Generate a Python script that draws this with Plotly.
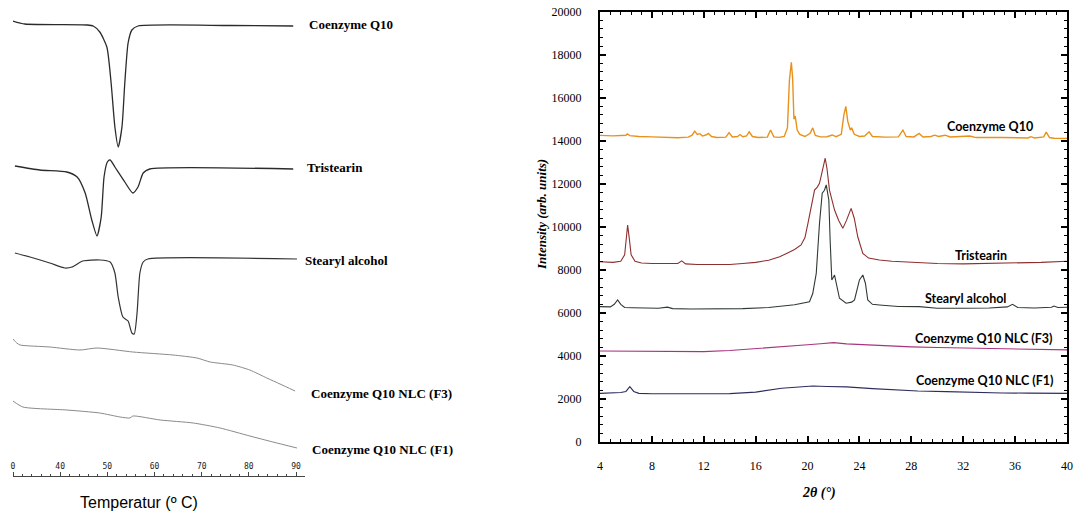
import plotly.graph_objects as go

# ---------------- DSC (left) ----------------
dsc_names = ["Coenzyme Q10", "Tristearin", "Stearyl alcohol", "Coenzyme Q10 NLC (F3)", "Coenzyme Q10 NLC (F1)"]

coq_T = [30.0, 32.5, 45.7, 47.0, 48.4, 49.9, 50.8, 51.6, 52.3, 53.1, 53.7, 54.4, 55.2, 56.5, 76.0, 89.4]
coq_H = [49.5, 49.2, 49.1, 49.0, 48.4, 46.9, 43.3, 38.9, 36.9, 38.9, 43.3, 47.3, 48.6, 49.0, 49.05, 49.0]

tri_T = [30.4, 35.7, 41.4, 43.6, 45.3, 46.7, 47.8, 48.7, 49.3, 50.0, 50.6, 51.6, 53.7, 55.4, 56.5, 57.6, 59.0, 89.4]
tri_H = [35.0, 34.6, 34.4, 33.9, 32.3, 29.6, 28.0, 29.9, 33.9, 35.4, 35.6, 34.9, 33.4, 32.3, 32.9, 34.3, 34.7, 34.7]

ste_T = [30.4, 33.6, 37.8, 41.0, 42.5, 44.8, 48.4, 50.6, 51.6, 52.3, 53.3, 54.4, 55.2, 55.7, 56.3, 56.9, 57.6, 58.6, 90.2]
ste_H = [26.3, 25.9, 25.3, 24.8, 24.9, 25.5, 25.6, 25.4, 24.3, 21.9, 19.9, 19.5, 18.3, 18.2, 20.3, 24.3, 25.4, 25.7, 25.7]

f3_T = [30.0, 30.8, 31.5, 37.8, 44.2, 47.8, 55.4, 63.9, 69.0, 71.8, 76.6, 80.2, 83.8, 86.6, 89.8]
f3_H = [17.7, 17.3, 17.1, 16.9, 16.6, 16.8, 16.4, 16.1, 15.8, 15.4, 15.1, 14.6, 13.8, 13.2, 12.5]

f1_T = [30.0, 32.1, 41.4, 48.4, 52.7, 54.8, 55.4, 61.2, 68.2, 73.9, 80.2, 85.1, 90.2]
f1_H = [11.5, 10.9, 10.6, 10.3, 9.9, 9.8, 10.0, 9.6, 9.3, 8.8, 8.0, 7.4, 6.8]

dsc_ticks = [30, 40, 50, 60, 70, 80, 90]
dsc_ticktext = ["0", "40", "50", "60", "70", "80", "90"]

# ---------------- XRD (right) ----------------
xrd_names = ["Coenzyme Q10", "Tristearin", "Stearyl alcohol", "Coenzyme Q10 NLC (F3)", "Coenzyme Q10 NLC (F1)"]

coq_x = [4.0, 5.0, 6.0, 6.1, 6.3, 7.0, 8.0, 9.0, 10.0, 10.8, 11.1, 11.3, 11.5, 11.7, 11.9, 12.2, 12.35, 12.6, 13.0, 13.7,
         13.95, 14.2, 14.6, 14.8, 15.0, 15.3, 15.5, 15.75, 16.2, 16.9, 17.15, 17.4, 17.8, 18.2, 18.45, 18.6, 18.75, 18.85,
         18.95, 19.05, 19.2, 19.4, 19.8, 20.2, 20.4, 20.6, 21.0, 21.5, 21.9, 22.2, 22.6, 22.8, 22.95, 23.1, 23.3, 23.4,
         23.6, 24.0, 24.4, 24.75, 25.0, 26.0, 27.0, 27.35, 27.6, 28.2, 28.6, 28.9, 29.5, 29.8, 30.1, 30.6, 31.0, 32.5,
         33.0, 35.0, 37.0, 37.2, 37.5, 38.2, 38.4, 38.65, 39.0, 40.0]
coq_y = [14250, 14230, 14260, 14320, 14240, 14200, 14180, 14150, 14140, 14170, 14260, 14450, 14300, 14330, 14220, 14280,
         14340, 14200, 14150, 14170, 14380, 14180, 14200, 14290, 14190, 14230, 14420, 14200, 14150, 14170, 14500, 14180,
         14160, 14200, 14600, 16800, 17650, 16900, 15000, 15150, 14500, 14300, 14200, 14350, 14600, 14250, 14180, 14190,
         14270, 14190, 14300, 15200, 15600, 14900, 14500, 14600, 14300, 14200, 14220, 14420, 14200, 14170, 14180, 14500,
         14200, 14180, 14340, 14180, 14200, 14260, 14200, 14260, 14180, 14220, 14150, 14150, 14130, 14190, 14130, 14180,
         14400, 14150, 14120, 14110]

tri_x = [4.0, 5.0, 5.6, 5.9, 6.05, 6.13, 6.25, 6.4, 6.7, 7.2, 8.0, 9.0, 10.0, 10.3, 10.6, 11.5, 13.0, 14.0, 15.0, 16.0,
         17.0, 17.85, 18.5, 19.0, 19.5, 19.8, 20.03, 20.3, 20.54, 20.75, 20.92, 21.1, 21.36, 21.5, 21.69, 22.08, 22.4,
         22.72, 23.0, 23.36, 23.6, 23.87, 24.26, 24.7, 25.54, 26.5, 28.62, 30.0, 32.0, 34.0, 36.0, 38.0, 40.0]
tri_y = [8380, 8350, 8400, 8700, 9600, 10080, 9500, 8700, 8400, 8320, 8300, 8290, 8300, 8420, 8280, 8250, 8260, 8250,
         8300, 8350, 8450, 8610, 8800, 8950, 9160, 9500, 10160, 11000, 11710, 11850, 12020, 12500, 13190, 12700, 11710,
         10780, 10300, 9930, 10300, 10860, 10400, 9540, 8770, 8550, 8460, 8400, 8330, 8300, 8280, 8300, 8320, 8350, 8400]

ste_x = [4.0, 4.8, 5.1, 5.36, 5.6, 5.9, 6.5, 7.5, 8.5, 9.2, 9.6, 11.0, 13.0, 15.0, 17.0, 17.85, 19.0, 20.15, 20.4, 20.67,
         20.92, 21.13, 21.3, 21.44, 21.64, 21.74, 21.87, 22.08, 22.25, 22.46, 22.97, 23.4, 23.62, 23.85, 24.0, 24.26,
         24.46, 24.64, 25.0, 25.54, 27.0, 28.6, 30.0, 32.0, 34.0, 35.4, 35.8, 36.2, 37.5, 38.8, 39.0, 39.3, 40.0]
ste_y = [6290, 6280, 6400, 6600, 6400, 6250, 6240, 6240, 6220, 6270, 6200, 6180, 6180, 6200, 6250, 6320, 6380, 6520,
         6900, 7840, 10160, 11560, 11700, 11950, 11250, 9390, 7530, 7760, 7300, 6680, 6450, 6500, 6600, 7100, 7530, 7760,
         7380, 6600, 6400, 6370, 6300, 6290, 6220, 6220, 6230, 6280, 6400, 6250, 6230, 6260, 6320, 6250, 6260]

f3_x = [4, 6, 8, 10, 12, 14, 16, 18, 20, 21, 22, 23, 24, 26, 28, 30, 32, 34, 36, 38, 40]
f3_y = [4230, 4220, 4200, 4190, 4200, 4250, 4330, 4430, 4520, 4570, 4620, 4560, 4530, 4470, 4420, 4390, 4370, 4330,
        4300, 4290, 4280]

f1_x = [4, 5, 5.6, 6.0, 6.3, 6.6, 7.0, 8, 10, 12, 14, 16, 18, 19, 20.4, 21.5, 23, 25, 26.8, 28.5, 30.7, 33, 35, 37, 40]
f1_y = [2260, 2270, 2300, 2350, 2570, 2350, 2260, 2240, 2230, 2240, 2250, 2320, 2500, 2550, 2600, 2580, 2560, 2480,
        2420, 2370, 2340, 2300, 2280, 2270, 2260]

xrd_label_x = [34.1, 33.4, 32.2, 33.6, 33.7]
xrd_label_y = [14660, 8690, 6690, 4790, 2840]

# the page's body margin is removed below, so the figure fills the window
W, H = 1074, 516


def fx(p):
    return p / W


def fy(p):
    return 1 - p / H


fig = go.Figure()

dsc_data = [(coq_T, coq_H, "#2b2b2b", 1.3), (tri_T, tri_H, "#2b2b2b", 1.3), (ste_T, ste_H, "#333333", 1.2),
            (f3_T, f3_H, "#8a8a8a", 1.0), (f1_T, f1_H, "#8a8a8a", 1.0)]
for (tx, ty, c, w), nm in zip(dsc_data, dsc_names):
    fig.add_trace(go.Scatter(x=tx, y=ty, mode="lines", line=dict(color=c, width=w, shape="spline", smoothing=0.6),
                             name=nm, xaxis="x", yaxis="y", showlegend=False))

xrd_data = [(coq_x, coq_y, "#E8921C", 1.4), (tri_x, tri_y, "#8E2F2F", 1.1), (ste_x, ste_y, "#2F3A32", 1.1),
            (f3_x, f3_y, "#A8347E", 1.1), (f1_x, f1_y, "#2E2E5E", 1.1)]
for (tx, ty, c, w), nm in zip(xrd_data, xrd_names):
    fig.add_trace(go.Scatter(x=tx, y=ty, mode="lines", line=dict(color=c, width=w),
                             name=nm, xaxis="x2", yaxis="y2", showlegend=False))

dsc_label_px = [(307, 25), (305, 167), (303, 260), (309, 393), (310, 449)]
ann = []
for (px, py), nm in zip(dsc_label_px, dsc_names):
    ann.append(dict(text="<b>" + nm + "</b>", x=fx(px), y=fy(py), xref="paper", yref="paper",
                    xanchor="left", yanchor="middle", showarrow=False,
                    font=dict(family="Liberation Serif", size=13, color="black")))
for nm, lx, ly in zip(xrd_names, xrd_label_x, xrd_label_y):
    ann.append(dict(text="<b>" + nm + "</b>", x=lx, y=ly, xref="x2", yref="y2", xanchor="center", yanchor="middle",
                    showarrow=False, font=dict(family="Lato", size=12.5, color="black")))

ann.append(dict(text="Temperatur (º C)", x=fx(139), y=fy(502), xref="paper", yref="paper",
                xanchor="center", yanchor="middle", showarrow=False,
                font=dict(family="Liberation Sans", size=16, color="black")))
ann.append(dict(text="<b><i>Intensity (arb. units)</i></b>", x=fx(541), y=fy(215), xref="paper", yref="paper",
                xanchor="center", yanchor="middle", showarrow=False, textangle=-90,
                font=dict(family="Liberation Serif", size=13, color="black")))
ann.append(dict(text="<b><i>2θ (°)</i></b>", x=fx(819), y=fy(493), xref="paper", yref="paper",
                xanchor="center", yanchor="middle", showarrow=False,
                font=dict(family="Liberation Serif", size=14, color="black")))

fig.update_layout(
    width=W, height=H, margin=dict(l=0, r=0, t=0, b=0, autoexpand=False),
    paper_bgcolor="white", plot_bgcolor="white",
    annotations=ann,
    xaxis=dict(domain=[fx(13), fx(305)], range=[30, 91.9], side="top", anchor="free", position=fy(476),
               automargin=False,
               showline=True, linecolor="#444", linewidth=1, showgrid=False, zeroline=False,
               tickmode="array", tickvals=dsc_ticks, ticktext=dsc_ticktext, ticks="outside", ticklen=4,
               tickcolor="#444", tickwidth=1,
               tickfont=dict(family="DejaVu Sans Mono", size=8, color="#222"),
               minor=dict(dtick=2, ticks="outside", ticklen=2, tickcolor="#444", tickwidth=1)),
    yaxis=dict(domain=[0, 1], range=[0, 51.6], visible=False, showgrid=False, zeroline=False, automargin=False),
    xaxis2=dict(domain=[fx(600), fx(1067)], range=[4, 40], anchor="y2", showline=True, linecolor="black",
                automargin=False, ticklabeloverflow="allow",
                linewidth=2, mirror="ticks", showgrid=False, zeroline=False, dtick=4, tick0=4, ticks="inside",
                ticklen=6, tickwidth=1.5, tickcolor="black", ticklabelstandoff=12,
                tickfont=dict(family="Liberation Serif", size=12, color="black"),
                minor=dict(dtick=0.8, tick0=4, ticks="inside", ticklen=3, tickcolor="black", tickwidth=1)),
    yaxis2=dict(domain=[fy(442), fy(11.7)], range=[0, 20000], anchor="x2", showline=True,
                automargin=False, tickformat="d", ticklabeloverflow="allow",
                linecolor="black", linewidth=2, mirror="ticks", showgrid=False, zeroline=False, dtick=2000,
                ticks="inside", ticklen=6, tickwidth=1.5, tickcolor="black", ticklabelstandoff=14,
                tickfont=dict(family="Liberation Serif", size=12, color="black"),
                minor=dict(dtick=400, ticks="inside", ticklen=3, tickcolor="black", tickwidth=1)),
)

fig.write_html("out.html", config={"displayModeBar": False},
               post_script="document.body.style.margin='0';document.body.style.overflow='hidden';")
